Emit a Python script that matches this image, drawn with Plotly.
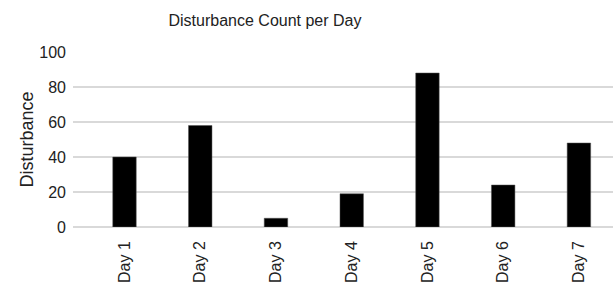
import plotly.graph_objects as go

days = ["Day 1", "Day 2", "Day 3", "Day 4", "Day 5", "Day 6", "Day 7"]
disturbance = [40, 58, 5, 19, 88, 24, 48]
y_ticks = [0, 20, 40, 60, 80, 100]

FONT = "Liberation Sans, Arial, sans-serif"

fig = go.Figure(
    go.Bar(
        x=list(range(len(days))),
        y=disturbance,
        width=0.31,
        marker=dict(color="#000000", line=dict(color="#555555", width=0.5)),
    )
)

fig.update_layout(
    width=613,
    height=286,
    margin=dict(l=73, r=0, t=52, b=59),
    paper_bgcolor="white",
    plot_bgcolor="white",
    font=dict(family=FONT, color="#222222", size=16),
    showlegend=False,
    title=dict(
        text="Disturbance Count per Day",
        x=265 / 613,
        xanchor="center",
        xref="container",
        y=1 - 20 / 286,
        yanchor="middle",
        yref="container",
        font=dict(size=16, family=FONT, color="#222222"),
    ),
)

fig.update_xaxes(
    tickmode="array",
    tickvals=list(range(len(days))),
    ticktext=days,
    tickangle=-90,
    range=[-0.68, 6.45],
    showgrid=False,
    zeroline=False,
    showline=False,
    ticks="",
    automargin=False,
    ticklabelstandoff=10,
    tickfont=dict(size=16, family=FONT, color="#222222"),
)

fig.update_yaxes(
    range=[0, 100],
    tickvals=y_ticks,
    showgrid=True,
    gridcolor="#d9d9d9",
    gridwidth=2,
    zeroline=True,
    zerolinecolor="#d9d9d9",
    zerolinewidth=2,
    showline=False,
    ticks="",
    automargin=False,
    ticklabelstandoff=6,
    tickfont=dict(size=16, family=FONT, color="#222222"),
    title=dict(text="Disturbance", standoff=0, font=dict(size=18, family=FONT, color="#222222")),
)

fig.write_html(
    "out.html",
    config={"displayModeBar": False},
    post_script="document.body.style.margin='0';document.body.style.padding='0';",
)
